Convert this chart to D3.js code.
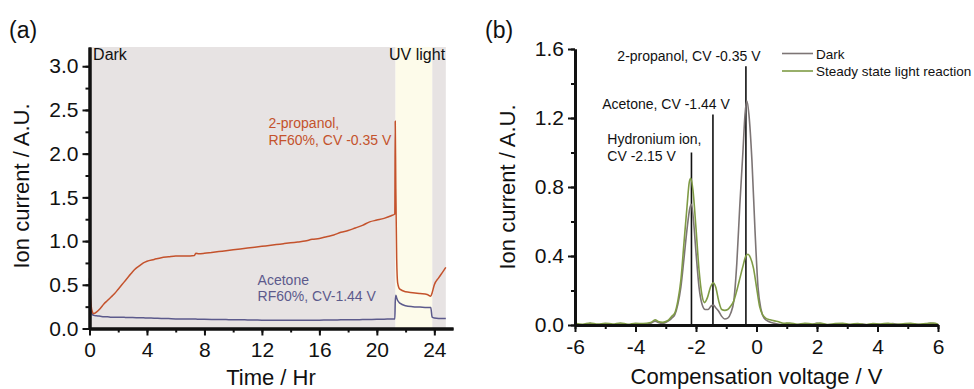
<!DOCTYPE html>
<html>
<head>
<meta charset="utf-8">
<script src="https://cdn.jsdelivr.net/npm/d3@7"></script>
<style>
  body { margin: 0; background: #fff; }
  svg { display: block; font-family: 'Liberation Sans', Arial, sans-serif; }
</style>
</head>
<body>
<script>
// ---- panel (a): ion current over time ----
const timeHr = [0, 0.05, 0.1, 0.2, 0.3, 0.5, 0.75, 1, 1.25, 1.5, 1.75, 2, 2.25, 2.5, 2.75, 3, 3.25, 3.5, 3.75, 4,
  4.5, 5, 5.5, 6, 6.5, 7, 7.3, 7.4, 7.6, 8, 8.5, 9, 9.5, 10, 10.5, 11, 11.5, 12, 12.5, 13, 13.5, 14, 14.5, 15,
  15.5, 16, 16.5, 17, 17.5, 18, 18.5, 19, 19.5, 20, 20.5, 21, 21.25, 21.28, 21.32, 21.38, 21.45, 21.6, 22, 22.5,
  23, 23.5, 23.75, 23.85, 24, 24.3, 24.6, 24.8]
const propanol = [0.58, 0.42, 0.28, 0.19, 0.17, 0.19, 0.23, 0.28, 0.32, 0.36, 0.40, 0.45, 0.50, 0.55, 0.60, 0.65,
  0.69, 0.72, 0.75, 0.77, 0.79, 0.81, 0.82, 0.83, 0.83, 0.83, 0.835, 0.86, 0.855, 0.86, 0.87, 0.88, 0.89, 0.90, 0.91,
  0.92, 0.93, 0.94, 0.95, 0.96, 0.97, 0.98, 0.99, 1.00, 1.02, 1.03, 1.05, 1.07, 1.10, 1.12, 1.15, 1.18, 1.22, 1.24,
  1.26, 1.29, 1.31, 2.37, 1.60, 0.80, 0.52, 0.45, 0.42, 0.41, 0.40, 0.39, 0.37, 0.41, 0.50, 0.58, 0.65, 0.70]
const acetone = [0.57, 0.35, 0.22, 0.16, 0.15, 0.145, 0.14, 0.135, 0.135, 0.13, 0.13, 0.13, 0.128, 0.127, 0.126,
  0.125, 0.124, 0.123, 0.122, 0.12, 0.118, 0.115, 0.113, 0.11, 0.11, 0.108, 0.108, 0.108, 0.106, 0.105, 0.104, 0.103,
  0.102, 0.10, 0.10, 0.098, 0.097, 0.095, 0.095, 0.095, 0.095, 0.095, 0.095, 0.095, 0.095, 0.095, 0.097, 0.098, 0.099,
  0.10, 0.10, 0.102, 0.103, 0.105, 0.107, 0.108, 0.11, 0.30, 0.38, 0.35, 0.32, 0.29, 0.26, 0.25, 0.245, 0.24, 0.24,
  0.13, 0.12, 0.115, 0.115, 0.115]
const darkBands = [[0, 21.3], [23.85, 24.8]]
const uvBand = [21.3, 23.85]
const xTicksA = [0, 4, 8, 12, 16, 20, 24]
const yTicksA = [0, 0.5, 1, 1.5, 2, 2.5, 3]

// ---- panel (b): CV spectra ----
const cvDark = [-6, -5.75, -5.5, -5.25, -5, -4.75, -4.5, -4.25, -4, -3.75, -3.5, -3.35, -3.25, -3.1, -3, -2.9, -2.8,
  -2.7, -2.6, -2.5, -2.4, -2.3, -2.2, -2.15, -2.08, -2, -1.9, -1.8, -1.7, -1.6, -1.5, -1.42, -1.35, -1.25, -1.15,
  -1.05, -0.95, -0.85, -0.75, -0.65, -0.55, -0.45, -0.38, -0.32, -0.25, -0.15, -0.05, 0.05, 0.15, 0.25, 0.4, 0.6,
  0.8, 1, 1.25, 1.5, 1.75, 2, 2.25, 2.5, 2.75, 3, 3.25, 3.5, 3.75, 4, 4.25, 4.5, 4.75, 5, 5.25, 5.5, 5.75, 6]
const dark = [0.005, 0.0, 0.008, -0.002, 0.004, 0.0, 0.006, -0.003, 0.004, 0.002, 0.01, 0.022, 0.015, 0.01, 0.015,
  0.025, 0.04, 0.06, 0.12, 0.22, 0.38, 0.55, 0.68, 0.70, 0.60, 0.42, 0.22, 0.12, 0.09, 0.09, 0.11, 0.115, 0.10, 0.08,
  0.05, 0.035, 0.04, 0.07, 0.14, 0.36, 0.70, 1.00, 1.22, 1.30, 1.22, 0.95, 0.55, 0.22, 0.09, 0.04, 0.02, 0.01, 0.003,
  0.008, 0.0, 0.006, -0.002, 0.01, 0.003, 0.0, 0.007, 0.002, 0.0, 0.006, -0.003, 0.004, 0.0, 0.008, 0.002, -0.002,
  0.006, 0.0, 0.01, 0.0]
const cvLight = [-6, -5.75, -5.5, -5.25, -5, -4.75, -4.5, -4.25, -4, -3.75, -3.5, -3.35, -3.25, -3.1, -3, -2.9, -2.8,
  -2.7, -2.6, -2.5, -2.4, -2.3, -2.22, -2.17, -2.1, -2, -1.9, -1.8, -1.72, -1.62, -1.52, -1.43, -1.35, -1.25, -1.15,
  -1.05, -0.95, -0.85, -0.75, -0.65, -0.55, -0.45, -0.35, -0.28, -0.2, -0.1, 0, 0.1, 0.2, 0.3, 0.45, 0.7, 0.9, 1.1,
  1.35, 1.6, 1.85, 2.1, 2.35, 2.6, 2.85, 3.1, 3.35, 3.6, 3.85, 4.1, 4.35, 4.6, 4.85, 5.1, 5.35, 5.6, 5.85, 6]
const light = [0.01, 0.004, 0.012, 0.005, 0.01, 0.006, 0.012, 0.004, 0.01, 0.008, 0.014, 0.03, 0.02, 0.015, 0.02,
  0.03, 0.05, 0.07, 0.14, 0.26, 0.47, 0.68, 0.83, 0.85, 0.78, 0.56, 0.32, 0.17, 0.13, 0.16, 0.22, 0.245, 0.22, 0.14,
  0.09, 0.085, 0.09, 0.11, 0.14, 0.20, 0.27, 0.34, 0.40, 0.41, 0.39, 0.33, 0.22, 0.11, 0.06, 0.04, 0.03, 0.02, 0.01,
  0.012, 0.004, 0.01, 0.006, 0.012, 0.003, 0.008, 0.01, 0.004, 0.009, 0.002, 0.008, 0.006, 0.01, 0.003, 0.007, 0.01,
  0.004, 0.008, 0.012, 0.005]
const peakMarks = [{ cv: -2.15, top: 1.0 }, { cv: -1.44, top: 1.22 }, { cv: -0.35, top: 1.5 }]
const legendItems = [{ name: 'Dark', color: '#7d7575' }, { name: 'Steady state light reaction', color: '#7f9b45' }]
const xTicksB = [-6, -4, -2, 0, 2, 4, 6]
const yTicksB = [0, 0.4, 0.8, 1.2, 1.6]

const svg = d3.select('body').append('svg')
  .attr('width', 974)
  .attr('height', 389)

// plain hyphen minus, as in the original figure
const fmtInt = d => String(d)

function styleAxis(g, labels) {
  g.select('.domain').attr('stroke', '#111').attr('stroke-width', 3)
  g.selectAll('.tick line').attr('stroke', '#111').attr('stroke-width', 2)
  g.selectAll('.tick text').attr('font-size', labels ? '21px' : '0px').attr('fill', '#111')
    .attr('font-family', "'Liberation Sans', Arial, sans-serif")
}

function drawAxes(x, y, xTicks, yTicks, xMinor, yMinor, fmtY) {
  const bottom = y.range()[0]
  const left = x.range()[0]

  svg.append('g').attr('transform', `translate(0,${bottom})`)
    .call(d3.axisBottom(x).tickValues(xMinor).tickSize(4).tickSizeOuter(0).tickFormat(''))
    .call(g => styleAxis(g, false))
  svg.append('g').attr('transform', `translate(0,${bottom})`)
    .call(d3.axisBottom(x).tickValues(xTicks).tickSize(7).tickPadding(7).tickSizeOuter(0).tickFormat(fmtInt))
    .call(g => styleAxis(g, true))

  svg.append('g').attr('transform', `translate(${left},0)`)
    .call(d3.axisLeft(y).tickValues(yMinor).tickSize(4).tickSizeOuter(0).tickFormat(''))
    .call(g => styleAxis(g, false))
  svg.append('g').attr('transform', `translate(${left},0)`)
    .call(d3.axisLeft(y).tickValues(yTicks).tickSize(7).tickPadding(4).tickSizeOuter(0).tickFormat(fmtY))
    .call(g => styleAxis(g, true))
}

// ================= (a) =================
const xA = d3.scaleLinear().domain([0, 25.3]).range([89.5, 453])
const yA = d3.scaleLinear().domain([0, 3.22]).range([328.5, 47])

svg.selectAll('.dark-band')
  .data(darkBands)
  .enter()
  .append('rect')
  .attr('x', d => xA(d[0]))
  .attr('width', d => xA(d[1]) - xA(d[0]))
  .attr('y', yA(3.22))
  .attr('height', yA(0) - yA(3.22))
  .attr('fill', '#e7e3e3')

svg.append('rect')
  .attr('x', xA(uvBand[0]))
  .attr('width', xA(uvBand[1]) - xA(uvBand[0]))
  .attr('y', yA(3.22))
  .attr('height', yA(0) - yA(3.22))
  .attr('fill', '#fdfbea')

const lineA = d3.line()
  .x((d, i) => xA(timeHr[i]))
  .y(d => yA(d))
  .curve(d3.curveMonotoneX)

svg.append('path').datum(acetone)
  .attr('d', lineA).attr('fill', 'none').attr('stroke', '#5c5a8c').attr('stroke-width', 1.5)
svg.append('path').datum(propanol)
  .attr('d', lineA).attr('fill', 'none').attr('stroke', '#c4522c').attr('stroke-width', 1.5)

drawAxes(xA, yA, xTicksA, yTicksA, d3.range(0, 26, 2), d3.range(0, 3.25, 0.25), d3.format('.1f'))

svg.append('text').attr('x', xA(0.25)).attr('y', 60).attr('font-size', '16px').attr('fill', '#111').text('Dark')
svg.append('text').attr('x', xA(24.75)).attr('y', 60).attr('font-size', '16px').attr('fill', '#111')
  .attr('text-anchor', 'end').text('UV light')

const propLabel = svg.append('text').attr('font-size', '14px').attr('fill', '#c4522c')
propLabel.append('tspan').attr('x', xA(12.45)).attr('y', yA(2.29)).text('2-propanol,')
propLabel.append('tspan').attr('x', xA(12.45)).attr('y', yA(2.1)).text('RF60%, CV -0.35 V')

const aceLabel = svg.append('text').attr('font-size', '14px').attr('fill', '#5c5a8c')
aceLabel.append('tspan').attr('x', xA(11.7)).attr('y', yA(0.5)).text('Acetone')
aceLabel.append('tspan').attr('x', xA(11.7)).attr('y', yA(0.315)).text('RF60%, CV-1.44 V')

svg.append('text').attr('x', 271).attr('y', 385).attr('text-anchor', 'middle')
  .attr('font-size', '22px').attr('fill', '#111').text('Time / Hr')
svg.append('text').attr('transform', 'translate(29,186) rotate(-90)').attr('text-anchor', 'middle')
  .attr('font-size', '22px').attr('fill', '#111').text('Ion current / A.U.')
svg.append('text').attr('x', 9).attr('y', 38).attr('font-size', '23px').attr('fill', '#111').text('(a)')

// ================= (b) =================
const xB = d3.scaleLinear().domain([-6, 6]).range([575, 938])
const yB = d3.scaleLinear().domain([0, 1.6]).range([325, 49])

svg.selectAll('.peak-mark')
  .data(peakMarks)
  .enter()
  .append('line')
  .attr('x1', d => xB(d.cv)).attr('x2', d => xB(d.cv))
  .attr('y1', yB(0)).attr('y2', d => yB(d.top))
  .attr('stroke', '#111').attr('stroke-width', 1.6)

svg.append('path').datum(dark)
  .attr('d', d3.line().x((d, i) => xB(cvDark[i])).y(d => yB(d)).curve(d3.curveMonotoneX))
  .attr('fill', 'none').attr('stroke', '#7d7575').attr('stroke-width', 1.6)
svg.append('path').datum(light)
  .attr('d', d3.line().x((d, i) => xB(cvLight[i])).y(d => yB(d)).curve(d3.curveMonotoneX))
  .attr('fill', 'none').attr('stroke', '#7f9b45').attr('stroke-width', 1.6)

drawAxes(xB, yB, xTicksB, yTicksB, d3.range(-6, 7, 1), d3.range(0, 1.61, 0.2), d3.format('.1f'))

svg.append('text').attr('x', xB(-4.6)).attr('y', 61).attr('font-size', '14px').attr('fill', '#111')
  .text('2-propanol, CV -0.35 V')
svg.append('text').attr('x', xB(-5.1)).attr('y', 109).attr('font-size', '14px').attr('fill', '#111')
  .text('Acetone, CV -1.44 V')
const hydLabel = svg.append('text').attr('font-size', '14px').attr('fill', '#111')
hydLabel.append('tspan').attr('x', xB(-4.93)).attr('y', 144).text('Hydronium ion,')
hydLabel.append('tspan').attr('x', xB(-4.93)).attr('y', 161).text('CV -2.15 V')

const legend = svg.selectAll('.legend')
  .data(legendItems)
  .enter()
  .append('g')
  .attr('transform', (d, i) => `translate(782,${53.5 + i * 17.5})`)
legend.append('line').attr('x1', 0).attr('x2', 31).attr('stroke', d => d.color).attr('stroke-width', 1.6)
legend.append('text').attr('x', 34).attr('y', 5).attr('font-size', '13.5px').attr('fill', '#111').text(d => d.name)

svg.append('text').attr('x', xB(0)).attr('y', 384).attr('text-anchor', 'middle')
  .attr('font-size', '22px').attr('fill', '#111').text('Compensation voltage / V')
svg.append('text').attr('transform', 'translate(515,187) rotate(-90)').attr('text-anchor', 'middle')
  .attr('font-size', '22px').attr('fill', '#111').text('Ion current / A.U.')
svg.append('text').attr('x', 485).attr('y', 38).attr('font-size', '23px').attr('fill', '#111').text('(b)')
</script>
</body>
</html>
